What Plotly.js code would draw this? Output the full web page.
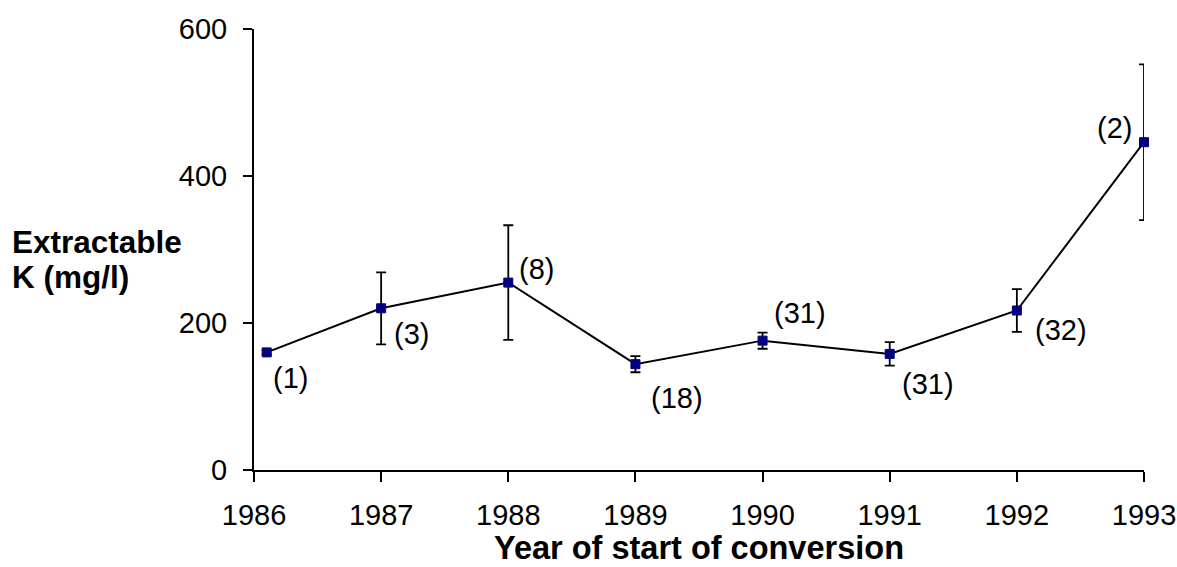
<!DOCTYPE html>
<html>
<head>
<meta charset="utf-8">
<script src="https://cdn.plot.ly/plotly-3.0.1.min.js"></script>
<style>html,body{margin:0;padding:0;background:#fff;}#chart{width:1177px;height:567px;}</style>
</head>
<body>
<div id="chart"></div>
<script>
// Data
const years = [1986.1, 1987, 1988, 1989, 1990, 1991, 1992, 1993];
const kValues = [160, 220, 255, 144, 176, 158, 217, 446];
const kErrors = [3, 49, 78, 11, 11, 16, 29, 106];
const sampleLabels = ["(1)", "(3)", "(8)", "(18)", "(31)", "(31)", "(32)", "(2)"];
const xTicks = [1986, 1987, 1988, 1989, 1990, 1991, 1992, 1993];
const yTicks = [0, 200, 400, 600];
const xTitle = "Year of start of conversion";
const yTitleLines = ["Extractable", "K (mg/l)"];

// label offsets (pixels) relative to each point
const labelShiftX = [24, 30, 28, 42, 37, 38, 44, -30];
const labelShiftY = [-26, -26, 14, -34, 28, -30, -19, 14];

const font = "Liberation Sans, Arial, sans-serif";

const trace = {
  x: years,
  y: kValues,
  type: "scatter",
  mode: "lines+markers",
  line: {color: "#000000", width: 2},
  marker: {symbol: "square", size: 9, color: "#000080", line: {color: "#000080", width: 1}},
  error_y: {type: "data", array: kErrors, visible: true, color: "#000000", thickness: 1.8, width: 5},
  cliponaxis: false,
  hoverinfo: "x+y"
};

const annotations = sampleLabels.map((t, i) => ({
  x: years[i], y: kValues[i], xref: "x", yref: "y",
  text: t, showarrow: false,
  xshift: labelShiftX[i], yshift: labelShiftY[i],
  font: {family: font, size: 29, color: "#000"}
}));

// y-axis title (horizontal, two lines)
annotations.push({
  xref: "paper", yref: "paper", x: -0.2742, y: 0.516,
  xanchor: "left", yanchor: "middle", align: "left",
  text: "<b>" + yTitleLines[0] + "</b>", showarrow: false,
  font: {family: font, size: 31.5, color: "#000"}
});
annotations.push({
  xref: "paper", yref: "paper", x: -0.2742, y: 0.437,
  xanchor: "left", yanchor: "middle", align: "left",
  text: "<b>" + yTitleLines[1] + "</b>", showarrow: false,
  font: {family: font, size: 31.5, color: "#000"}
});
// x-axis title
annotations.push({
  xref: "paper", yref: "paper", x: 0.5, y: -0.1769,
  xanchor: "center", yanchor: "middle",
  text: "<b>" + xTitle + "</b>", showarrow: false,
  font: {family: font, size: 32.5, color: "#000"}
});

const layout = {
  width: 1177, height: 567,
  margin: {l: 254, r: 33, t: 29, b: 97},
  paper_bgcolor: "#fff", plot_bgcolor: "#fff",
  showlegend: false,
  font: {family: font, color: "#000"},
  xaxis: {
    range: [1986, 1993], tickvals: xTicks, ticktext: xTicks.map(String),
    showgrid: false, zeroline: false,
    showline: true, linecolor: "#000", linewidth: 2,
    ticks: "outside", ticklen: 10, tickwidth: 2, tickcolor: "#000",
    ticklabelstandoff: 8,
    tickfont: {family: font, size: 29, color: "#000"}
  },
  yaxis: {
    range: [0, 600], tickvals: yTicks, ticktext: yTicks.map(String),
    showgrid: false, zeroline: false,
    showline: true, linecolor: "#000", linewidth: 2,
    ticks: "outside", ticklen: 9, tickwidth: 2, tickcolor: "#000",
    ticklabelstandoff: 10,
    tickfont: {family: font, size: 29, color: "#000"}
  },
  annotations: annotations
};

Plotly.newPlot("chart", [trace], layout, {displayModeBar: false, staticPlot: true});
</script>
</body>
</html>
